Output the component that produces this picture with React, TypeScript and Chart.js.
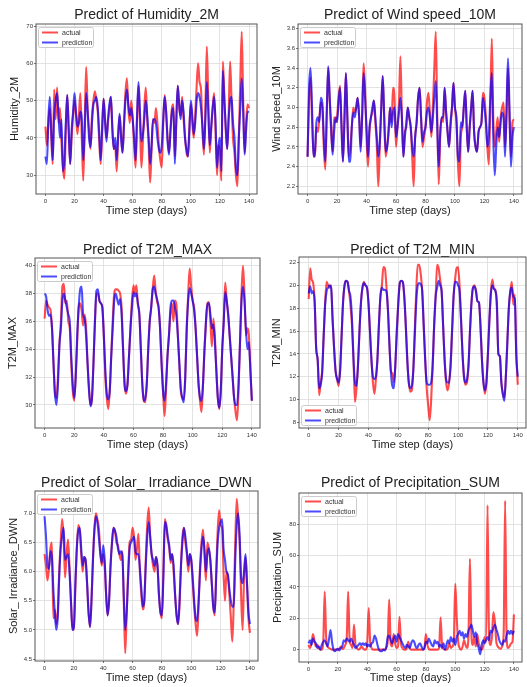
import React, { useEffect, useRef } from "react";
import { Chart, registerables } from "chart.js";

Chart.register(...registerables);

// ---------- series (one value per day, days 0..140) ----------
const HUMIDITY_ACTUAL = [
  43, 38, 44, 48, 40, 33, 53, 45, 53.5, 44,
  48, 39, 32, 29, 42, 51.5, 42, 33, 40, 46,
  50, 46, 41, 46, 52, 40, 28.5, 44, 59, 48,
  42, 37, 46, 50, 52.5, 50, 47, 39, 33, 42,
  50.5, 45, 40, 44, 48, 51, 42, 37, 38, 31,
  40, 46, 41, 36, 44, 52, 56, 48, 44, 50,
  45, 38, 32, 45, 54, 44, 32, 39, 48, 53.5,
  45, 38, 28, 37, 45, 44, 48, 44, 38, 34,
  32, 44, 51.5, 47, 40, 36, 42, 48, 49, 35,
  44, 54, 48, 46, 51, 45, 40, 36, 35, 43,
  49, 44, 40, 46, 54, 60, 55, 53, 42, 35.5,
  48, 64.5, 50, 36, 42, 48, 52, 42, 30, 38,
  36, 28.5, 60.5, 52, 42, 37, 46, 60.5, 50, 40,
  36, 30, 27, 40, 55, 68.5, 50, 36, 44, 49,
  48,
];
const HUMIDITY_PRED = [
  35, 33, 45, 51, 42, 34, 46, 50, 52, 46,
  40, 45, 31, 34, 44, 51.5, 42, 33, 42, 47,
  52, 47, 43, 44, 47, 45, 34, 42, 52, 47,
  40, 37.5, 44, 49, 50, 51, 48, 41, 34, 43,
  50.5, 44, 39, 45, 49, 51, 43, 37, 40, 34,
  41, 46.5, 40, 36, 43, 50, 53, 49, 46, 48,
  45, 40, 34, 46, 55, 47, 39, 41, 45, 50,
  46, 40, 33, 38, 45, 45, 44, 40, 37, 36,
  38, 45, 51, 47, 39, 35.5, 42, 47, 48, 33,
  45, 54, 49, 45, 50, 47, 40, 37, 35, 42,
  50, 46, 41, 44, 50, 52, 51, 48, 43, 37,
  45, 55, 47, 38, 43, 48, 51, 44, 32, 38,
  40, 31, 58, 50, 43, 37, 45, 50, 51, 44,
  40, 32, 30, 40, 48, 56, 47, 35.5, 42, 47,
  47,
];

const WIND_ACTUAL = [
  2.5, 3.1, 3.3, 2.9, 2.55, 2.5, 2.8, 2.75, 2.9, 3.05,
  3.0, 2.6, 2.37, 2.9, 3.4, 3.1, 2.75, 2.55, 2.9, 2.85,
  2.9, 3.1, 3.22, 2.85, 2.45, 2.9, 3.35, 2.9, 2.5, 2.6,
  2.8, 3.0, 2.95, 3.0, 3.1, 2.9, 2.6, 2.9, 3.45, 3.2,
  2.7, 2.4, 2.75, 2.9, 2.95, 3.07, 2.85, 2.6, 2.2, 2.6,
  3.0, 3.32, 2.9, 2.5, 2.6, 2.8, 3.0, 2.85, 3.2, 3.1,
  2.6, 2.8, 3.05, 3.52, 2.9, 2.5, 2.75, 2.8, 3.0, 2.9,
  2.8, 2.5, 2.2, 2.7, 2.85, 3.1, 3.2, 2.9, 2.6, 2.7,
  2.8, 3.05, 3.15, 2.95, 2.7, 3.0, 3.4, 3.77, 2.9, 2.22,
  2.7, 2.9, 2.85, 3.2, 2.95, 2.75, 2.6, 2.8, 3.0, 3.25,
  3.0, 2.85, 2.45, 2.2, 2.7, 2.8, 3.0, 3.17, 2.8, 2.55,
  2.8, 3.0, 3.17, 2.75, 2.6, 2.55, 2.75, 2.8, 2.85, 3.15,
  3.1, 2.9, 2.6, 2.42, 3.0, 3.7, 2.9, 2.6, 2.75, 2.9,
  2.65, 2.9, 3.0, 3.05, 2.6, 2.9, 3.4, 2.9, 2.5, 2.85,
  2.88,
];
const WIND_PRED = [
  2.5, 3.2, 3.4, 3.0, 2.5, 2.55, 2.85, 2.9, 2.85, 3.1,
  3.05, 2.7, 2.45, 2.95, 3.42, 3.1, 2.8, 2.52, 2.75, 2.9,
  2.85, 3.05, 3.2, 2.8, 2.45, 2.85, 3.35, 2.9, 2.45, 2.45,
  2.8, 2.95, 2.9, 3.0, 3.1, 2.9, 2.55, 2.9, 3.35, 3.1,
  2.8, 2.5, 2.8, 2.9, 3.0, 3.07, 2.9, 2.7, 2.5, 2.65,
  3.0, 3.32, 2.9, 2.55, 2.6, 2.75, 3.0, 2.8, 2.95, 3.0,
  2.7, 2.8, 2.95, 3.1, 2.9, 2.5, 2.7, 2.85, 3.0, 2.9,
  2.8, 2.6, 2.5, 2.7, 2.85, 3.1, 3.2, 2.9, 2.65, 2.75,
  2.8, 2.95, 3.0, 2.9, 2.75, 2.9, 3.1, 3.27, 2.8, 2.4,
  2.75, 2.9, 2.9, 3.2, 2.95, 2.75, 2.6, 2.85, 3.0, 3.25,
  3.0, 2.9, 2.5, 2.45, 2.85, 2.8, 3.0, 3.17, 2.8, 2.55,
  2.8, 3.0, 3.17, 2.75, 2.6, 2.55, 2.75, 2.8, 2.85, 3.1,
  3.0, 2.85, 2.6, 2.7, 3.1, 3.35, 2.7, 2.31, 2.6, 2.8,
  2.7, 2.85, 2.95, 2.9, 2.5, 3.0, 3.5, 3.0, 2.4, 2.7,
  2.8,
];

const T2M_MAX_ACTUAL = [
  36.2, 37.5, 37.2, 37.0, 36.8, 35.5, 33, 30.8, 30.5, 32,
  34.4, 36, 38.5, 38.7, 37.3, 37.5, 36, 35.5, 33, 31,
  30.3, 32, 34.5, 37, 37.3, 36.8, 35.7, 36.5, 35.6, 33,
  31.2, 30, 30.5, 33, 36, 38, 38, 37.5, 37.3, 37,
  35, 32, 30.5, 29.7, 31, 33.5, 36, 38, 38.3, 38.3,
  38.2, 38, 37, 34, 31.5, 30.8, 31.5, 33.5, 35.5, 37.5,
  38.6, 38, 38.6, 37.2, 36.5, 34, 31.5, 30.3, 30.2, 31.5,
  34, 36, 37, 38.3, 39.3, 38.2, 37.4, 37, 35.5, 33,
  31, 29.2, 31, 33.5, 35, 36.5, 37.3, 36, 37.5, 37.2,
  35, 33, 31, 30.5, 30.4, 32, 35.5, 38, 39.8, 38.5,
  37.5, 37, 35.5, 33.5, 31.5, 30.3, 29.5, 31.5, 34, 36,
  37.3, 37.4, 36, 34.2, 36.2, 35, 32.5, 30.5, 29.7, 31,
  34, 36, 38.8, 37.5, 36.5, 35, 33.5, 32, 30.5, 29.5,
  28.9, 31, 34.5, 38, 40, 38, 35, 35.5, 35, 32.5,
  30.3,
];
const T2M_MAX_PRED = [
  38, 37.8, 36.8, 36.4, 36.5, 35.5, 33, 30.8, 30, 31.5,
  34.3, 35.5, 37.5, 38, 37.5, 37, 36.5, 36, 33.5, 31.5,
  30.5, 32, 35, 37, 38.3, 38.5, 36.5, 36.2, 35, 33,
  31, 29.9, 30.5, 33, 36, 38.2, 38.3, 37.5, 37.3, 37,
  35, 32.5, 30.8, 30.4, 31, 33.5, 35.5, 37.5, 38, 37.6,
  37.2, 37.6, 36.5, 34, 31.5, 31, 31.5, 33.5, 35.5, 37,
  38.1, 37.8, 38, 37.3, 36.5, 34, 31.5, 30.3, 30.5, 31.5,
  34, 36, 37, 38.3, 38.5, 38, 37.6, 37, 35.5, 33,
  31, 30.3, 31.5, 33.5, 35, 37, 37.5, 37.5, 37, 36.4,
  35, 33, 31.2, 30.5, 30.2, 32, 35.5, 37.5, 38.4, 38,
  37.5, 36.8, 35.5, 33.5, 31.5, 30.5, 30.3, 31.5, 34, 36,
  37.3, 37.3, 36.5, 35.5, 35.8, 34.5, 32.5, 30.5, 29.8, 31,
  34, 36, 38.1, 37.5, 36.5, 35, 33.5, 32, 30.5, 30,
  30, 31.5, 34.5, 37.5, 38.5, 37.5, 35.5, 34, 34.5, 32.5,
  30.3,
];

const T2M_MIN_ACTUAL = [
  18.8, 21.5, 20.5, 20.2, 18.5, 14.5, 13.5, 10.4, 11.5, 12.5,
  15.5, 18.5, 20.3, 20, 19.8, 20, 17, 14.5, 12.5, 11.8,
  11.2, 12.5, 15.5, 18.5, 20, 20.4, 20.3, 19.5, 18.2, 16.5,
  13.5, 9.8, 11, 13, 16, 18.5, 19.8, 20.3, 20, 19.8,
  18.5, 16, 13.5, 11.5, 10.5, 11.8, 13.5, 16.5, 19, 20,
  21.6, 21.5, 20, 18, 15, 12.5, 12.3, 11.5, 13, 16,
  18.5, 20.2, 20.4, 20.3, 19, 16.5, 13.5, 11.5, 10.7, 10.8,
  12.5, 16, 19.5, 21.8, 21.8, 21, 19.5, 16.5, 13.5, 11,
  9.5, 8.2, 10, 13, 16.5, 19, 21.8, 21.5, 20.5, 19.5,
  16.5, 13.5, 11.5, 10.8, 11.5, 13, 16, 19, 20.5, 21.5,
  21.6, 20, 17, 14, 12, 11.3, 11.5, 13, 16, 18.5,
  19.8, 20, 19.5, 18.6, 18.5, 16.5, 13.5, 11.5, 10.5, 11.5,
  14, 17, 19.5, 20.5, 19.7, 19.6, 18, 14, 13.8, 11.5,
  10.5, 10.2, 12, 15, 18, 19.5, 20.3, 18.3, 19.2, 14,
  11.3,
];
const T2M_MIN_PRED = [
  19.3, 19.9, 19.3, 19.5, 18.5, 14.5, 13.5, 11, 11.3, 12.3,
  15.5, 18.3, 19.5, 19.8, 20, 19.8, 17, 14.5, 12.5, 11.8,
  11.5, 12.5, 15.5, 18.5, 20, 20.4, 20.3, 19.5, 19, 17,
  13.5, 11.5, 11.2, 13, 16, 18.5, 19.8, 20.2, 20, 19.8,
  18.5, 16, 13.5, 12, 11.8, 12, 13.5, 16.5, 19, 19.8,
  19.6, 19.6, 19.5, 18, 15, 12.5, 11.2, 11, 13, 16,
  18.5, 20.2, 20.4, 20.3, 19, 16.5, 13.5, 11.5, 11, 11.2,
  12.5, 15.5, 18.5, 20, 20.2, 20.1, 19.5, 16.5, 13.5, 11.5,
  11.3, 11.3, 11.5, 13, 16.5, 19, 19.8, 20.4, 20, 19.5,
  16.5, 13.5, 11.8, 11.5, 11.5, 13, 16, 19, 20.3, 20.3,
  20, 19.5, 17, 14, 12, 11.5, 11.8, 13, 16, 18.5,
  19.8, 19.9, 19.5, 18.6, 18.5, 16.5, 13.5, 11.5, 10.8, 11.5,
  14, 17, 19.3, 20, 19.7, 19.5, 18.5, 14, 13.8, 11.5,
  10.5, 9.9, 12, 15, 18, 19.5, 19.8, 19, 18.8, 13.8,
  12,
];

const SOLAR_ACTUAL = [
  6.3, 6.1, 5.85, 6.05, 6.4, 6.5, 5.2, 5.35, 5.1, 5.3,
  6.0, 6.5, 6.9, 6.6, 5.9, 6.3, 6.55, 6.1, 5.5, 5.05,
  5.0, 5.7, 6.4, 6.8, 6.7, 6.3, 6.0, 6.25, 6.2, 5.8,
  5.3, 5.05, 5.5, 6.2, 6.75, 7.0, 6.9, 6.75, 6.35, 6.1,
  6.3, 6.1, 5.6, 5.25, 5.5, 6.1, 6.5, 6.75, 6.7, 6.5,
  6.45, 6.3, 6.2, 6.35, 5.5, 4.6, 5.3, 6.0, 6.5, 6.55,
  6.75, 6.6, 6.2, 6.4, 6.65, 6.0, 5.6, 5.35, 5.5, 6.2,
  6.8, 7.1, 6.6, 6.3, 6.1, 6.0, 6.25, 6.1, 5.6, 5.3,
  5.2, 6.0, 6.9, 6.75, 6.55, 6.4, 6.15, 6.3, 6.0, 5.6,
  5.25, 5.1, 5.4, 6.1, 6.6, 6.75, 6.5, 6.3, 6.0, 6.3,
  6.2, 5.8, 5.4, 5.1, 4.9, 5.4, 6.1, 6.5, 6.72, 6.3,
  5.85, 6.5, 6.4, 6.2, 5.8, 5.4, 5.25, 6.0, 6.7, 7.05,
  6.8, 6.75, 6.0, 5.5, 6.0, 5.9, 5.6, 5.2, 4.8, 5.5,
  6.5, 7.25, 6.9, 6.5, 5.6, 5.0, 5.9, 6.25, 5.8, 5.2,
  4.95,
];
const SOLAR_PRED = [
  6.95, 6.6, 6.1, 6.05, 6.35, 6.25, 5.7, 5.3, 5.0, 5.2,
  5.9, 6.4, 6.6, 6.75, 6.2, 6.25, 6.3, 6.0, 5.5, 5.0,
  5.05, 5.8, 6.4, 6.7, 6.75, 6.4, 6.1, 6.25, 6.2, 5.8,
  5.3, 5.05, 5.5, 6.2, 6.7, 6.95, 6.85, 6.6, 6.3, 6.15,
  6.45, 6.2, 5.6, 5.25, 5.5, 6.1, 6.5, 6.75, 6.7, 6.6,
  6.4, 6.3, 6.35, 6.3, 5.6, 5.0, 5.3, 5.9, 6.4, 6.5,
  6.55, 6.6, 6.35, 6.3, 6.3, 6.05, 5.7, 5.4, 5.5, 6.1,
  6.6, 6.85, 6.6, 6.3, 6.2, 6.1, 6.25, 6.1, 5.6, 5.3,
  5.25, 5.9, 6.85, 6.8, 6.6, 6.45, 6.2, 6.3, 6.1, 5.6,
  5.25, 5.1, 5.5, 6.1, 6.5, 6.75, 6.6, 6.35, 6.1, 6.3,
  6.2, 5.9, 5.5, 5.2, 5.15, 5.5, 6.0, 6.4, 6.6, 6.4,
  6.0, 6.3, 6.4, 6.2, 5.8, 5.4, 5.3, 5.9, 6.5, 6.75,
  6.85, 6.9, 6.4, 6.2, 6.0, 5.95, 5.7, 5.5, 5.4, 5.4,
  6.2, 6.8, 7.0, 6.6, 5.9, 5.8, 6.0, 6.3, 5.8, 5.3,
  5.1,
];

const PRECIP_ACTUAL = [
  3, 1, 4, 10, 6, 2, 3, 1, 0, 0,
  4, 37, 8, 2, 1, 0.5, 0, 0, 0, 0,
  0, 0.5, 2, 0.5, 1, 3, 7, 37, 6, 3,
  1, 16, 3, 1, 0, 0.5, 2, 1, 0, 0,
  4, 26.5, 5, 1, 0, 0, 0, 0, 0, 0,
  0, 0, 0, 1, 6, 32, 4, 2, 10, 4,
  1, 2, 21, 4, 1, 0, 0, 1, 5, 1,
  0, 0, 0, 0, 0, 0, 0, 0, 0, 1,
  10, 3, 0.5, 0, 0, 0, 0, 0, 0, 1,
  20.5, 3, 0.5, 0, 0, 1, 4, 1, 2, 5,
  42, 20.5, 5, 1, 0, 2, 6, 3, 1, 8,
  58, 10, 3, 8, 2, 10, 4, 1, 0, 2,
  8, 5, 92, 10, 3, 8, 24, 18, 5, 2,
  1, 0.5, 2, 10, 95, 8, 1, 2, 4, 5,
  22.5,
];
const PRECIP_PRED = [
  4, 6, 3, 7, 5, 4, 1, 2, 0, 3,
  5, 6, 4, 2, 7, 12.5, 5, 0, -1, 0,
  0.5, -0.5, 1, 2, 6, 5, 7, 6, 5, 7,
  5, 3, 1, 2, 3, 4, 3, 4, 3, 4,
  2, 3, 2, 4, 5, 9, 7, 3, 0, -1,
  -1, 0, -0.5, 2, 8, 9, 6, 4, 7, 9,
  5, 10, 8, 6, 4, 2, 1, 3, 2, 1,
  4, 6, 5, 2, 1, 3, 4, 2, 0, 1,
  5, 4, 7, 5, 3, 2, 6, 4, 5, 2,
  3, 1, 4, 0, 3, 6, 4, 8, 5, 7,
  3, 8, 10, 12, 9, 11, 7, 10, 8, 12,
  14, 16, 12, 8, 11, 4, 1, -3, 3, 6,
  4, 6, 8, 6, 12, 11, 14, 16, 13, 10,
  6, 4, 3, 6, 5, 9, 12, 10, 12, 10,
  12,
];

// ---------- tick values and labels ----------
const X_TICKS = [0, 20, 40, 60, 80, 100, 120, 140];
const HUMIDITY_TICKS = [30, 40, 50, 60, 70];
const WIND_TICKS = [2.2, 2.4, 2.6, 2.8, 3.0, 3.2, 3.4, 3.6, 3.8];
const T2M_MAX_TICKS = [30, 32, 34, 36, 38, 40];
const T2M_MIN_TICKS = [8, 10, 12, 14, 16, 18, 20, 22];
const SOLAR_TICKS = [4.5, 5.0, 5.5, 6.0, 6.5, 7.0];
const PRECIP_TICKS = [0, 20, 40, 60, 80];
const SERIES_LABELS = ["actual", "prediction"];
const X_LABEL = "Time step (days)";

// ---------- styling ----------
const FONT = '"Liberation Sans", Arial, sans-serif';
const ACTUAL_COLOR = "rgba(255, 0, 0, 0.7)";
const PRED_COLOR = "rgba(0, 0, 255, 0.7)";
const GRID_COLOR = "#dcdcdc";
const FRAME_COLOR = "#555555";
const TEXT_COLOR = "#222222";
const TICK_TEXT = "#333333";
const X_MIN = -6.5;
const X_MAX = 145.5;

type Rect = { x: number; y: number; w: number; h: number };
type PlotBox = { l: number; t: number; r: number; b: number };
type Panel = {
  title: string;
  yLabel: string;
  actual: number[];
  pred: number[];
  yTicks: number[];
  legend: "top" | "bottom";
  canvas: Rect;
  plot: PlotBox;
  titleY: number;
  yTitleX: number;
  xTitleY: number;
};

const PANELS: Panel[] = [
  {
    title: "Predict of Humidity_2M", yLabel: "Humidity_2M",
    actual: HUMIDITY_ACTUAL, pred: HUMIDITY_PRED, yTicks: HUMIDITY_TICKS, legend: "top",
    canvas: { x: 0, y: 0, w: 264, h: 222 }, plot: { l: 36, t: 24, r: 257, b: 194 },
    titleY: 15.5, yTitleX: 15, xTitleY: 210.7,
  },
  {
    title: "Predict of Wind speed_10M", yLabel: "Wind speed_10M",
    actual: WIND_ACTUAL, pred: WIND_PRED, yTicks: WIND_TICKS, legend: "top",
    canvas: { x: 264, y: 0, w: 263, h: 222 }, plot: { l: 298, t: 24, r: 522, b: 194 },
    titleY: 15, yTitleX: 276.7, xTitleY: 210.7,
  },
  {
    title: "Predict of T2M_MAX", yLabel: "T2M_MAX",
    actual: T2M_MAX_ACTUAL, pred: T2M_MAX_PRED, yTicks: T2M_MAX_TICKS, legend: "top",
    canvas: { x: 0, y: 228, w: 264, h: 225 }, plot: { l: 35, t: 258, r: 260, b: 428 },
    titleY: 250, yTitleX: 13.3, xTitleY: 445,
  },
  {
    title: "Predict of T2M_MIN", yLabel: "T2M_MIN",
    actual: T2M_MIN_ACTUAL, pred: T2M_MIN_PRED, yTicks: T2M_MIN_TICKS, legend: "bottom",
    canvas: { x: 264, y: 228, w: 263, h: 225 }, plot: { l: 299, t: 257, r: 526, b: 428 },
    titleY: 250, yTitleX: 277.3, xTitleY: 445,
  },
  {
    title: "Predict of Solar_ Irradiance_DWN", yLabel: "Solar_ Irradiance_DWN",
    actual: SOLAR_ACTUAL, pred: SOLAR_PRED, yTicks: SOLAR_TICKS, legend: "top",
    canvas: { x: 0, y: 462, w: 264, h: 225 }, plot: { l: 35, t: 491, r: 258, b: 661 },
    titleY: 483.3, yTitleX: 14, xTitleY: 678.3,
  },
  {
    title: "Predict of Precipitation_SUM", yLabel: "Precipitation_SUM",
    actual: PRECIP_ACTUAL, pred: PRECIP_PRED, yTicks: PRECIP_TICKS, legend: "top",
    canvas: { x: 264, y: 462, w: 263, h: 225 }, plot: { l: 299, t: 493, r: 522, b: 662 },
    titleY: 483, yTitleX: 278, xTitleY: 678.3,
  },
];

const toPoints = (values: number[]) => values.map((y, x) => ({ x, y }));

// Matplotlib-like axis limits: data range plus a 5% margin on each side.
function yLimits(a: number[], b: number[]) {
  const all = a.concat(b);
  const lo = Math.min(...all);
  const hi = Math.max(...all);
  const pad = (hi - lo) * 0.05;
  return { min: lo - pad, max: hi + pad };
}

// Dark rectangle round the plotting area.
const framePlugin = {
  id: "axesFrame",
  afterDatasetsDraw(chart: any) {
    const { ctx, chartArea: a } = chart;
    ctx.save();
    ctx.strokeStyle = FRAME_COLOR;
    ctx.lineWidth = 1;
    ctx.strokeRect(a.left, a.top, a.right - a.left, a.bottom - a.top);
    ctx.restore();
  },
};

// Framed legend drawn inside the plotting area.
const insideLegendPlugin = {
  id: "insideLegend",
  afterDraw(chart: any, _args: any, opts: any) {
    const { ctx, chartArea: a } = chart;
    const w = 55;
    const h = 20;
    const x = a.left + 2;
    const y = opts.at === "bottom" ? a.bottom - 3 - h : a.top + 3;
    ctx.save();
    ctx.beginPath();
    if (ctx.roundRect) ctx.roundRect(x + 0.5, y + 0.5, w, h, 2);
    else ctx.rect(x + 0.5, y + 0.5, w, h);
    ctx.fillStyle = "rgba(255,255,255,0.85)";
    ctx.fill();
    ctx.strokeStyle = "#cccccc";
    ctx.lineWidth = 1;
    ctx.stroke();
    chart.data.datasets.forEach((ds: any, i: number) => {
      const ly = y + 5.5 + i * 10;
      ctx.beginPath();
      ctx.moveTo(x + 4, ly);
      ctx.lineTo(x + 20, ly);
      ctx.strokeStyle = ds.borderColor;
      ctx.lineWidth = 2;
      ctx.stroke();
      ctx.fillStyle = TICK_TEXT;
      ctx.font = `7px ${FONT}`;
      ctx.textBaseline = "middle";
      ctx.textAlign = "left";
      ctx.fillText(ds.label, x + 24, ly + 0.5);
    });
    ctx.restore();
  },
};

function buildConfig(p: Panel): any {
  const c = p.canvas;
  const yWidth = p.plot.l - c.x;
  const padRight = c.x + c.w - p.plot.r;
  const titleLine = 14;
  const titlePadTop = p.titleY - c.y - titleLine / 2;
  const titlePadBottom = Math.max(0, p.plot.t - c.y - titlePadTop - titleLine);
  const xHeight = c.y + c.h - p.plot.b;
  const axisTitleLine = 11 * 1.2;
  const xTitlePadBottom = c.y + c.h - p.xTitleY - axisTitleLine / 2;
  const yTitlePadTop = p.yTitleX - c.x - axisTitleLine / 2;
  const lim = yLimits(p.actual, p.pred);

  const tickFont = { family: FONT, size: 6 };
  const grid = { color: GRID_COLOR, lineWidth: 0.8, tickColor: "#555", tickLength: 2 };
  const lineStyle = {
    borderWidth: 2.1, pointRadius: 0, fill: false,
    cubicInterpolationMode: "monotone",
  };

  return {
    type: "line",
    data: {
      datasets: [
        {
          label: SERIES_LABELS[0], data: toPoints(p.actual),
          borderColor: ACTUAL_COLOR, backgroundColor: ACTUAL_COLOR, order: 1, ...lineStyle,
        },
        {
          label: SERIES_LABELS[1], data: toPoints(p.pred),
          borderColor: PRED_COLOR, backgroundColor: PRED_COLOR, order: 0, ...lineStyle,
        },
      ],
    },
    options: {
      animation: false,
      responsive: false,
      events: [],
      layout: { padding: { left: 0, right: padRight, top: 0, bottom: 0 } },
      plugins: {
        legend: { display: false },
        tooltip: { enabled: false },
        title: {
          display: true, text: p.title, fullSize: false, color: TEXT_COLOR,
          font: { family: FONT, size: 14, weight: "normal", lineHeight: 1 },
          padding: { top: titlePadTop, bottom: titlePadBottom },
        },
        insideLegend: { at: p.legend },
      },
      scales: {
        x: {
          type: "linear", position: "bottom", min: X_MIN, max: X_MAX,
          afterBuildTicks: (s: any) => { s.ticks = X_TICKS.map((v) => ({ value: v })); },
          afterFit: (s: any) => { s.height = xHeight; },
          ticks: { font: tickFont, color: TICK_TEXT, padding: 1.5, maxRotation: 0, autoSkip: false },
          grid,
          border: { display: false },
          title: {
            display: true, text: X_LABEL, color: TEXT_COLOR,
            font: { family: FONT, size: 11 }, padding: { top: 0, bottom: xTitlePadBottom },
          },
        },
        y: {
          type: "linear", min: lim.min, max: lim.max,
          afterBuildTicks: (s: any) => { s.ticks = p.yTicks.map((v) => ({ value: v })); },
          afterFit: (s: any) => { s.width = yWidth; },
          ticks: { font: tickFont, color: TICK_TEXT, padding: 1, autoSkip: false },
          grid,
          border: { display: false },
          title: {
            display: true, text: p.yLabel, color: TEXT_COLOR,
            font: { family: FONT, size: 11 }, padding: { top: yTitlePadTop, bottom: 0 },
          },
        },
      },
    },
    plugins: [framePlugin, insideLegendPlugin],
  };
}

function PanelChart({ panel }: { panel: Panel }) {
  const ref = useRef<HTMLCanvasElement | null>(null);
  useEffect(() => {
    const canvas = ref.current;
    if (!canvas) return;
    const chart = new Chart(canvas, buildConfig(panel));
    return () => chart.destroy();
  }, [panel]);
  const c = panel.canvas;
  return (
    <canvas
      ref={ref}
      width={c.w}
      height={c.h}
      style={{ position: "absolute", left: c.x, top: c.y, width: c.w, height: c.h }}
    />
  );
}

export default function App() {
  return (
    <div
      style={{
        position: "absolute", left: 0, top: 0, width: 527, height: 687,
        background: "#ffffff", overflow: "hidden",
      }}
    >
      {PANELS.map((p) => (
        <PanelChart key={p.title} panel={p} />
      ))}
    </div>
  );
}
